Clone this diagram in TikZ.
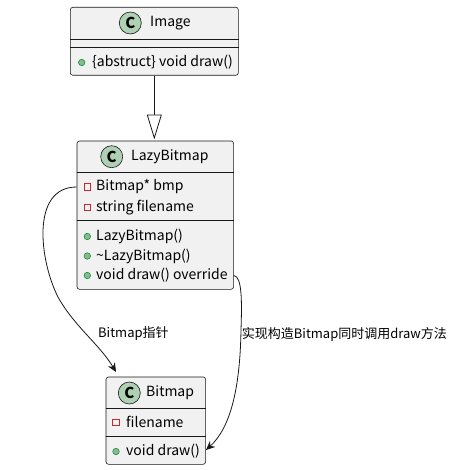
\documentclass[tikz,border=0pt]{standalone}
\usepackage{fontspec}
\setmainfont{Noto Sans CJK SC}
\usetikzlibrary{arrows.meta}
\definecolor{boxfill}{HTML}{F1F1F1}
\definecolor{boxline}{HTML}{181818}
\definecolor{cfill}{HTML}{ADD1B2}
\definecolor{privred}{HTML}{C82930}
\definecolor{pubfill}{HTML}{84BE84}
\definecolor{publine}{HTML}{038048}
\tikzset{
  classbox/.style={draw=boxline, fill=boxfill, line width=0.6pt, rounded corners=2.5pt, inner sep=0pt, anchor=north west},
  sepline/.style={draw=boxline, line width=0.6pt},
  cicon/.style={circle, draw=boxline, fill=cfill, line width=0.6pt, minimum size=22pt, inner sep=0pt, font=\fontsize{15}{15}\selectfont\bfseries},
  cname/.style={anchor=west, inner sep=0pt, font=\fontsize{14}{16}\selectfont},
  member/.style={anchor=west, inner sep=0pt, font=\fontsize{14}{16}\selectfont},
  privicon/.style={draw=privred, line width=0.6pt, minimum size=6.5pt, inner sep=0pt},
  pubicon/.style={circle, draw=publine, fill=pubfill, line width=0.5pt, minimum size=6.5pt, inner sep=0pt},
  elabel/.style={anchor=west, inner sep=0pt, font=\fontsize{13}{15}\selectfont},
  assoc/.style={draw=boxline, line width=0.8pt, -{Stealth[length=9pt, width=8pt, inset=3pt]}},
  inherit/.style={draw=boxline, line width=0.8pt},
}
\begin{document}
\begin{tikzpicture}[x=1pt, y=-1pt]
\useasboundingbox (0,0) rectangle (452,470);
% ---- Image ----
\node[classbox, minimum width=168pt, minimum height=68pt] (img) at (70,7) {};
\node[cicon] (imgC) at (130.3,23) {C};
\node[cname] (imgN) at (150,23) {Image};
\draw[sepline] (img.west |- 0,39) -- (img.east |- 0,39);
\draw[sepline] (img.west |- 0,47) -- (img.east |- 0,47);
\node[pubicon] (imgP1) at (81.7,62.5) {};
\node[member] (imgM1) at (92,62.5) {\{abstruct\} void draw()};
% ---- LazyBitmap ----
\node[classbox, minimum width=156.6pt, minimum height=148.3pt] (lzb) at (76.7,140.7) {};
\node[cicon] (lzbC) at (111.7,156.7) {C};
\node[cname] (lzbN) at (131,156.7) {LazyBitmap};
\draw[sepline] (lzb.west |- 0,172.3) -- (lzb.east |- 0,172.3);
\draw[sepline] (lzb.west |- 0,220) -- (lzb.east |- 0,220);
\node[privicon] (lzbA1i) at (87.3,187) {};
\node[member] (lzbA1) at (96,187) {Bitmap* bmp};
\node[privicon] (lzbA2i) at (87.3,207.5) {};
\node[member] (lzbA2) at (96,207.5) {string filename};
\node[pubicon] (lzbM1i) at (87.3,236.5) {};
\node[member] (lzbM1) at (96,236.5) {LazyBitmap()};
\node[pubicon] (lzbM2i) at (87.3,256) {};
\node[member] (lzbM2) at (96,256) {\textasciitilde LazyBitmap()};
\node[pubicon] (lzbM3i) at (87.3,275.5) {};
\node[member] (lzbM3) at (96,275.5) {void draw() override};
% ---- Bitmap ----
\node[classbox, minimum width=99.6pt, minimum height=87.3pt] (bmp) at (105.7,376.7) {};
\node[cicon] (bmpC) at (129.3,393) {C};
\node[cname] (bmpN) at (146,393) {Bitmap};
\draw[sepline] (bmp.west |- 0,408.3) -- (bmp.east |- 0,408.3);
\draw[sepline] (bmp.west |- 0,436.7) -- (bmp.east |- 0,436.7);
\node[privicon] (bmpA1i) at (116,422.3) {};
\node[member] (bmpA1) at (126,422.3) {filename};
\node[pubicon] (bmpM1i) at (116,451.5) {};
\node[member] (bmpM1) at (126,451.5) {void draw()};
% ---- inheritance ----
\coordinate (triBase) at (154.3,115);
\coordinate (triTip) at (154.3,138);
\draw[inherit] (img.south -| triBase) -- (triBase);
\draw[inherit, fill=white] (147.3,115) -- (161.3,115) -- (triTip) -- cycle;
% ---- associations ----
\coordinate (e1s) at (lzb.west |- lzbA1);
\coordinate (e1e) at (116,372);
\draw[assoc] (e1s) .. controls (30,187) and (40,262) .. (58,297) .. controls (74,326) and (100,345) .. (e1e);
\node[elabel] (l1) at (98,334) {Bitmap指针};
\coordinate (e2s) at (lzb.east |- lzbM3);
\coordinate (e2e) at (206,450);
\draw[assoc] (e2s) .. controls (242,277) and (242,300) .. (241,330) .. controls (240,390) and (230,428) .. (e2e);
\node[elabel] (l2) at (241.7,334) {实现构造Bitmap同时调用draw方法};
\end{tikzpicture}
\end{document}
